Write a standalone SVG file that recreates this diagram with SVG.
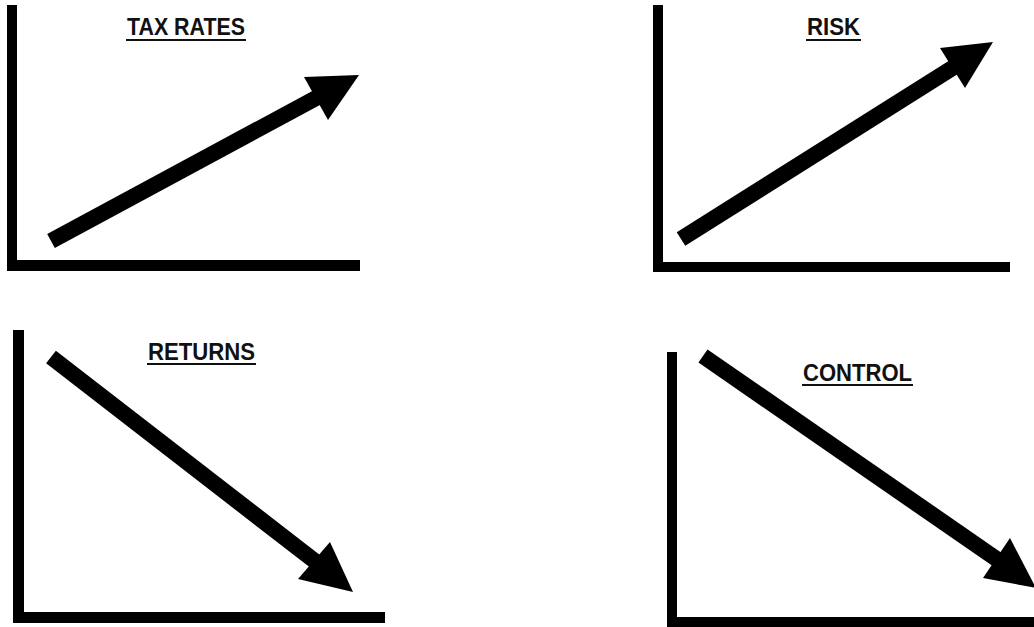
<svg xmlns="http://www.w3.org/2000/svg" width="1034" height="627" viewBox="0 0 1034 627">
<style>
.axis{fill:#000}
.lbl{font-family:"Liberation Sans",Arial,sans-serif;font-weight:bold;font-size:23px;fill:#111}
.ul{stroke:#111;stroke-width:2}
.shaft{stroke:#000;stroke-width:16;fill:none}
.head{fill:#000}
</style>
<rect width="1034" height="627" fill="#fff"/>
<g id="chart-tax-rates">
<rect class="axis" x="7" y="5" width="10" height="266"/>
<rect class="axis" x="7" y="260" width="353" height="11"/>
<text class="lbl" x="127" y="35" textLength="118" lengthAdjust="spacingAndGlyphs">TAX RATES</text>
<line class="ul" x1="126" y1="40" x2="246" y2="40"/>
</g>
<g id="chart-risk">
<rect class="axis" x="653" y="5" width="10" height="267"/>
<rect class="axis" x="653" y="262" width="357" height="10"/>
<text class="lbl" x="807" y="35" textLength="53" lengthAdjust="spacingAndGlyphs">RISK</text>
<line class="ul" x1="806" y1="40" x2="861" y2="40"/>
</g>
<g id="chart-returns">
<rect class="axis" x="13" y="330" width="11" height="293"/>
<rect class="axis" x="13" y="612" width="372" height="11"/>
<text class="lbl" x="148" y="360" textLength="107" lengthAdjust="spacingAndGlyphs">RETURNS</text>
<line class="ul" x1="147" y1="364" x2="256" y2="364"/>
</g>
<g id="chart-control">
<rect class="axis" x="667" y="352" width="10" height="275"/>
<rect class="axis" x="667" y="617" width="367" height="10"/>
<text class="lbl" x="803" y="381" textLength="109" lengthAdjust="spacingAndGlyphs">CONTROL</text>
<line class="ul" x1="802" y1="385" x2="913" y2="385"/>
</g>
<g id="connectors">
<line class="shaft" x1="51" y1="241" x2="318" y2="97"/>
<polygon class="head" points="304,77 359,75 328,120"/>
<line class="shaft" x1="681" y1="239" x2="954" y2="67"/>
<polygon class="head" points="940,48 993,42 965,88"/>
<line class="shaft" x1="51" y1="357" x2="316" y2="562"/>
<polygon class="head" points="330,542 353,592 298,579"/>
<line class="shaft" x1="703" y1="356" x2="998" y2="560"/>
<polygon class="head" points="1010,538 1036,588 983,578"/>
</g>
</svg>
